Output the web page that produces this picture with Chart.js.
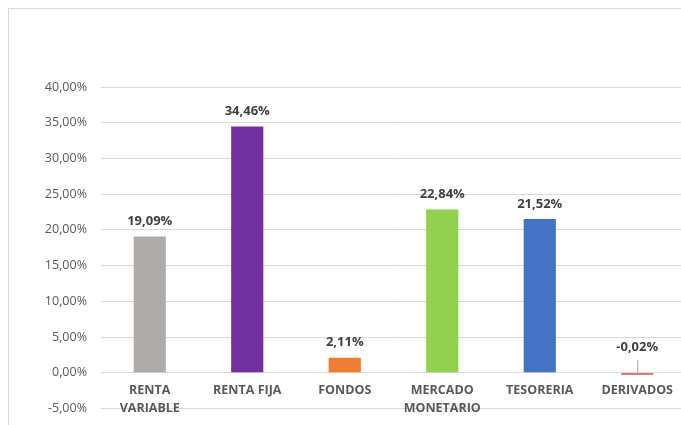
<!DOCTYPE html>
<html>
<head>
<meta charset="utf-8">
<script src="https://cdn.jsdelivr.net/npm/chart.js@4/dist/chart.umd.min.js"></script>
<style>
  html, body { margin: 0; padding: 0; background: #fff; overflow: hidden; }
  #wrap { position: relative; width: 681px; height: 425px; overflow: hidden; }
  #frame { position: absolute; left: 8px; top: 8px; width: 720px; height: 480px; border: 1px solid #d9d9d9; box-sizing: border-box; }
  #box { position: absolute; left: 0; top: 0; width: 690px; height: 430px; }
</style>
</head>
<body>
<div id="wrap">
  <div id="frame"></div>
  <div id="box"><canvas id="c" width="690" height="430"></canvas></div>
</div>
<script>
const categories = [['RENTA', 'VARIABLE'], 'RENTA FIJA', 'FONDOS', ['MERCADO', 'MONETARIO'], 'TESORERIA', 'DERIVADOS'];
const values = [19.09, 34.46, 2.11, 22.84, 21.52, -0.02];
const barColors = ['#AEABAB', '#7030A0', '#ED7D31', '#92D050', '#4472C4', '#D24B4B'];
const yMin = -5, yMax = 40, yStep = 5;

const fmt = v => v.toFixed(2).replace('.', ',') + '%';

const labelPlugin = {
  id: 'labels',
  afterDatasetsDraw(chart) {
    const ctx = chart.ctx;
    const xs = chart.scales.x, ys = chart.scales.y;
    const meta = chart.getDatasetMeta(0);
    const zeroY = ys.getPixelForValue(0);
    ctx.save();
    ctx.textAlign = 'center';
    ctx.textBaseline = 'middle';
    ctx.font = 'bold 13px "Open Sans"';
    ctx.fillStyle = '#404040';
    meta.data.forEach((bar, i) => {
      const v = values[i];
      if (v >= 0) {
        ctx.fillText(fmt(v), bar.x, bar.y - 15);
      } else {
        ctx.fillText(fmt(v), bar.x, zeroY - 25);
        ctx.strokeStyle = '#a6a6a6';
        ctx.lineWidth = 1;
        ctx.beginPath();
        ctx.moveTo(bar.x + 0.5, zeroY - 13);
        ctx.lineTo(bar.x + 0.5, zeroY);
        ctx.stroke();
      }
    });
    ctx.font = 'bold 12.5px "Open Sans"';
    ctx.fillStyle = '#595959';
    categories.forEach((c, i) => {
      const x = xs.getPixelForValue(i);
      const lines = Array.isArray(c) ? c : [c];
      lines.forEach((t, j) => ctx.fillText(t, x, zeroY + 18 + j * 18));
    });
    ctx.restore();
  }
};

new Chart(document.getElementById('c'), {
  type: 'bar',
  data: {
    labels: categories,
    datasets: [{
      data: values,
      backgroundColor: barColors,
      borderWidth: 0,
      minBarLength: 2,
      categoryPercentage: 1,
      barPercentage: 0.33
    }]
  },
  options: {
    responsive: false,
    animation: false,
    events: [],
    layout: { padding: { left: 0, right: 4, top: 87, bottom: 0 } },
    plugins: { legend: { display: false }, tooltip: { enabled: false } },
    scales: {
      x: {
        display: false,
        grid: { display: false }
      },
      y: {
        min: yMin, max: yMax,
        border: { display: false },
        grid: { color: '#d9d9d9', lineWidth: 1, drawTicks: false },
        ticks: {
          stepSize: yStep,
          padding: 14,
          color: '#595959',
          font: { family: 'Open Sans', size: 12.5 },
          callback: v => fmt(v)
        },
        afterFit: s => { s.width = 101; }
      }
    }
  },
  plugins: [labelPlugin]
});
</script>
</body>
</html>
